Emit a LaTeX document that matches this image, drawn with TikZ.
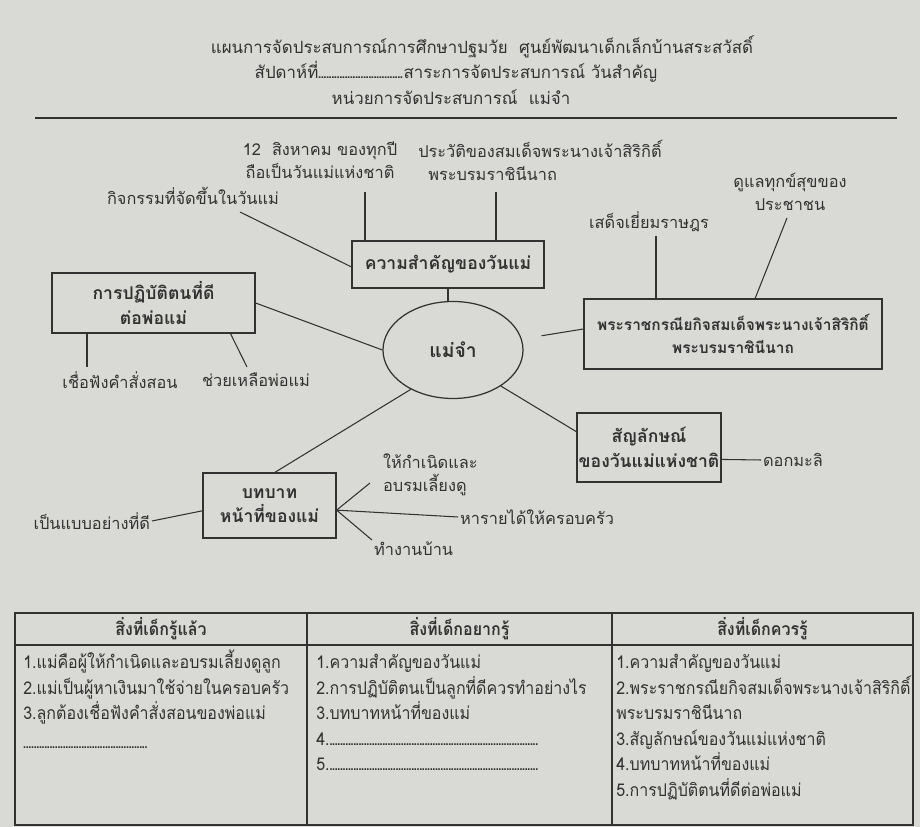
\documentclass[tikz,border=0pt]{standalone}
\usepackage{fontspec}
\setmainfont{Loma}[Script=Thai]
\newfontfamily\tblfont[Script=Thai,FakeStretch=0.91]{Loma}
\usepackage{tikz}
\usetikzlibrary{shapes.geometric}
\usetikzlibrary{calc}

\definecolor{paper}{RGB}{217,217,214}
\definecolor{ink}{RGB}{50,50,50}
\newcommand{\dotline}[1]{\makebox[#1]{\leaders\hbox to 1.5pt{\hss.\hss}\hfill}}

\begin{document}
\begin{tikzpicture}[x=0.2mm,y=-0.2mm,
  every node/.style={text=ink},
  leaf/.style={font=\fontsize{9.3}{13}\selectfont, inner sep=1pt, align=center},
  title/.style={font=\fontsize{9.6}{13}\selectfont, inner sep=1pt},
  topic/.style={draw=ink, line width=0.7pt, font=\bfseries\fontsize{10}{14}\selectfont, align=center, inner sep=0pt},
  cell/.style={anchor=base west, inner sep=0pt, font=\tblfont\fontsize{10}{12}\selectfont},
  headcell/.style={anchor=base, inner sep=0pt, font=\tblfont\bfseries\fontsize{10}{12}\selectfont},
  lnk/.style={draw=ink, line width=0.6pt}]
\fill[paper] (0,0) rectangle (920,827);
\useasboundingbox (0,0) rectangle (920,827);

\node[title] (title1) at (482,47) {แผนการจัดประสบการณ์การศึกษาปฐมวัย\ \ ศูนย์พัฒนาเด็กเล็กบ้านสระสวัสดิ์};
\node[title] (title2) at (456,72) {สัปดาห์ที่\dotline{17mm}สาระการจัดประสบการณ์ วันสำคัญ};
\node[title] (title3) at (451,97) {หน่วยการจัดประสบการณ์\ \ แม่จำ};
\draw[ink, line width=1pt] (35,118) -- (897,118);

\node[topic, ellipse, minimum width=28mm, minimum height=19.4mm, font=\bfseries\fontsize{11}{14}\selectfont] (mom) at (453,350) {แม่จำ};
\node[topic, minimum width=38.4mm, minimum height=9.4mm] (imp) at (448,264.5) {ความสำคัญของวันแม่};
\node[topic, minimum width=40.6mm, minimum height=12mm] (good) at (153.5,303) {การปฏิบัติตนที่ดี\\ต่อพ่อแม่};
\node[topic, minimum width=59.6mm, minimum height=14mm, font=\bfseries\fontsize{8.8}{13}\selectfont] (royal) at (733,334) {พระราชกรณียกิจสมเด็จพระนางเจ้าสิริกิติ์\\พระบรมราชินีนาถ};
\node[topic, minimum width=28.8mm, minimum height=13.8mm] (sym) at (649,447.5) {สัญลักษณ์\\ของวันแม่แห่งชาติ};
\node[topic, minimum width=26.6mm, minimum height=13mm] (role) at (269.5,505.5) {บทบาท\\หน้าที่ของแม่};

\node[leaf] (date) at (320,160) {12\ \ สิงหาคม ของทุกปี\\ถือเป็นวันแม่แห่งชาติ};
\node[leaf] (activity) at (193,196) {กิจกรรมที่จัดขึ้นในวันแม่};
\node[leaf, align=left] (history) at (540,160) {ประวัติของสมเด็จพระนางเจ้าสิริกิติ์\\\hspace*{2mm}พระบรมราชินีนาถ};
\node[leaf] (care) at (790,192) {ดูแลทุกข์สุขของ\\ประชาชน};
\node[leaf] (visit) at (649,222) {เสด็จเยี่ยมราษฎร};
\node[leaf] (obey) at (120,380) {เชื่อฟังคำสั่งสอน};
\node[leaf] (help) at (256,380) {ช่วยเหลือพ่อแม่};
\node[leaf, anchor=west] (jasmine) at (761,460) {ดอกมะลิ};
\node[leaf, anchor=east] (model) at (152,521) {เป็นแบบอย่างที่ดี};
\node[leaf, anchor=west, align=left] (birth) at (381,475) {ให้กำเนิดและ\\อบรมเลี้ยงดู};
\node[leaf, anchor=west] (income) at (458,517) {หารายได้ให้ครอบครัว};
\node[leaf, anchor=west] (chores) at (372,549) {ทำงานบ้าน};

\coordinate (dateend) at (365,192);
\coordinate (actend) at (240,212);
\coordinate (histend) at (496,192);
\coordinate (visitend) at (656,236);
\coordinate (careend) at (787,218);
\coordinate (obeyend) at (87,367);
\coordinate (helpend) at (247,367);
\coordinate (birthend) at (370,483);
\coordinate (rj) at ($(role.north east)!0.57!(role.south east)$);

\draw[lnk] (dateend) -- (dateend |- imp.north);
\draw[lnk] (actend) -- ($(imp.north west)!0.55!(imp.south west)$);
\draw[lnk] (histend) -- (histend |- imp.north);
\draw[lnk] (imp.south) -- (imp.south |- mom.north);
\draw[lnk] (visitend) -- (visitend |- royal.north);
\draw[lnk] (careend) -- ($(royal.north west)!0.574!(royal.north east)$);
\draw[lnk, shorten >=4mm] ($(royal.north west)!0.43!(royal.south west)$) -- (mom);
\draw[lnk] (good.east) -- (mom.west);
\draw[lnk] (obeyend |- good.south) -- (obeyend);
\draw[lnk] ($(good.south west)!0.877!(good.south east)$) -- (helpend);
\draw[lnk] (mom.223) -- ($(role.north west)!0.54!(role.north east)$);
\draw[lnk] (mom.323) -- ($(sym.north west)!0.275!(sym.south west)$);
\draw[lnk] ($(sym.north east)!0.67!(sym.south east)$) -- (jasmine.west);
\draw[lnk] (model.east) -- ($(role.north west)!0.58!(role.south west)$);
\draw[lnk] (rj) -- (birthend);
\draw[lnk] (rj) -- (income.west);
\draw[lnk] (rj) -- (chores.north west);

\draw[ink, line width=0.8pt] (15,613) rectangle (913,825);
\draw[ink, line width=0.8pt] (15,645) -- (913,645);
\draw[ink, line width=0.8pt] (307,613) -- (307,825);
\draw[ink, line width=0.8pt] (612,613) -- (612,825);

\node[headcell] (knownhead) at (161,636) {สิ่งที่เด็กรู้แล้ว};
\node[headcell] (wanthead) at (459.5,636) {สิ่งที่เด็กอยากรู้};
\node[headcell] (shouldhead) at (762.5,636) {สิ่งที่เด็กควรรู้};

\node[cell] (known1) at (23,669) {1.แม่คือผู้ให้กำเนิดและอบรมเลี้ยงดูลูก};
\node[cell] (known2) at (23,694.5) {2.แม่เป็นผู้หาเงินมาใช้จ่ายในครอบครัว};
\node[cell] (known3) at (23,720) {3.ลูกต้องเชื่อฟังคำสั่งสอนของพ่อแม่};
\node[cell] (known4) at (23,749) {\dotline{25mm}};

\node[cell] (want1) at (316,669) {1.ความสำคัญของวันแม่};
\node[cell] (want2) at (316,694.5) {2.การปฏิบัติตนเป็นลูกที่ดีควรทำอย่างไร};
\node[cell] (want3) at (316,720) {3.บทบาทหน้าที่ของแม่};
\node[cell] (want4) at (316,745.5) {4.\dotline{42mm}};
\node[cell] (want5) at (316,771) {5.\dotline{42mm}};

\node[cell] (should1) at (616,669) {1.ความสำคัญของวันแม่};
\node[cell] (should2) at (616,694.5) {2.พระราชกรณียกิจสมเด็จพระนางเจ้าสิริกิติ์};
\node[cell] (should3) at (616,720) {พระบรมราชินีนาถ};
\node[cell] (should4) at (616,745.5) {3.สัญลักษณ์ของวันแม่แห่งชาติ};
\node[cell] (should5) at (616,771) {4.บทบาทหน้าที่ของแม่};
\node[cell] (should6) at (616,796.5) {5.การปฏิบัติตนที่ดีต่อพ่อแม่};
\end{tikzpicture}
\end{document}
